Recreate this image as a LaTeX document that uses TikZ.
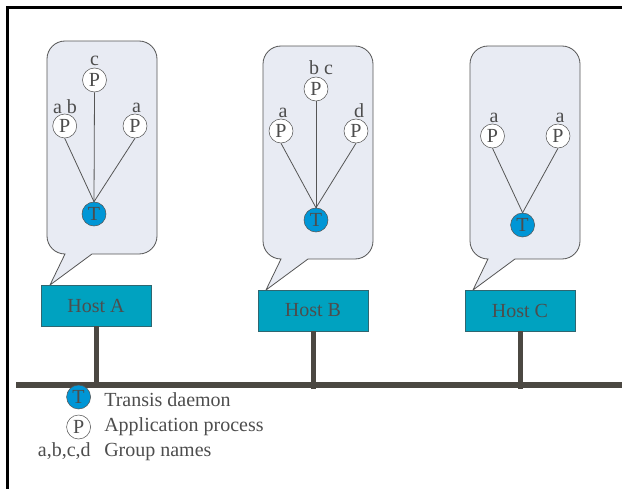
\documentclass[tikz,border=0pt]{standalone}
\usepackage{fontspec}
\setmainfont{Liberation Serif}
\definecolor{inkgray}{HTML}{4D4D4D}
\definecolor{edgegray}{HTML}{555555}
\definecolor{bubblefill}{HTML}{E8EBF3}
\definecolor{hostteal}{HTML}{00A2C0}
\definecolor{hostedge}{HTML}{2F6670}
\definecolor{daemonblue}{HTML}{0096D6}
\definecolor{busgray}{HTML}{4B4842}

% speech bubble over a host, shifted to its top left corner
\newcommand{\bubble}[1]{%
  \draw[bubble,shift={#1}] (18,213) -- (3,244) -- (45,213) -- (92,213)
    arc[start angle=90,end angle=0,radius=18] -- (110,18)
    arc[start angle=0,end angle=-90,radius=18] -- (18,0)
    arc[start angle=-90,end angle=-180,radius=18] -- (0,195)
    arc[start angle=180,end angle=90,radius=18] -- cycle;}

\begin{document}
\begin{tikzpicture}[x=0.75pt,y=-0.75pt,
        every node/.style={font=\fontsize{15}{18}\selectfont,text=inkgray},
        proc/.style={circle,draw=edgegray,fill=white,inner sep=0pt,minimum size=18pt},
        daemon/.style={circle,draw=edgegray,fill=daemonblue,inner sep=0pt,minimum size=18pt},
        group/.style={anchor=base,inner sep=0pt},
        host/.style={draw=hostedge,fill=hostteal,inner sep=0pt,minimum width=82.5pt,minimum height=30.75pt},
        link/.style={draw=edgegray,line width=0.6pt},
        bubble/.style={draw=edgegray,fill=bubblefill,line width=0.6pt},
        stem/.style={draw=busgray,line width=3.75pt},
        bus/.style={draw=busgray,line width=4.5pt},
        frame/.style={draw=black,line width=2.6pt},
    ]
    \useasboundingbox (0,0) rectangle (622,489);
    \draw[frame] (7.5,489) -- (7.5,7.5) -- (622,7.5);

    \bubble{(47,41)}
    \bubble{(263,46)}
    \bubble{(470,46)}

    % host A
    \node[proc] (pA1) at (94.5,80) {P};
    \node[proc] (pA2) at (64.7,126) {P};
    \node[proc] (pA3) at (135,126) {P};
    \node[group] (gA1) at (94.5,65) {c};
    \node[group] (gA2) at (65,113) {a b};
    \node[group] (gA3) at (136.6,112) {a};
    \node[daemon] (tA) at (94,214) {T};
    \foreach \p in {pA1,pA2,pA3} \draw[link] (\p.south) -- (tA.north);

    % host B
    \node[proc] (pB1) at (316,89) {P};
    \node[proc] (pB2) at (281,131) {P};
    \node[proc] (pB3) at (356,131) {P};
    \node[group] (gB1) at (321,74) {b c};
    \node[group] (gB2) at (283,117) {a};
    \node[group] (gB3) at (359,117) {d};
    \node[daemon] (tB) at (316,220) {T};
    \foreach \p in {pB1,pB2,pB3} \draw[link] (\p.south) -- (tB.north);

    % host C
    \node[proc] (pC1) at (492.5,136) {P};
    \node[proc] (pC2) at (558,136) {P};
    \node[group] (gC1) at (494,122) {a};
    \node[group] (gC2) at (560,122) {a};
    \node[daemon] (tC) at (522.6,225) {T};
    \foreach \p in {pC1,pC2} \draw[link] (\p.south) -- (tC.north);

    % hosts on the network
    \node[host] (hostA) at (96,305.5) {Host A};
    \node[host] (hostB) at (313,310.5) {Host B};
    \node[host] (hostC) at (520,310.5) {Host C};
    \coordinate (jA) at (96,385);
    \coordinate (jB) at (313,389);
    \coordinate (jC) at (520,389);
    \draw[stem] (hostA.south) -- (jA);
    \draw[stem] (hostB.south) -- (jB);
    \draw[stem] (hostC.south) -- (jC);
    \coordinate (busL) at (16,385);
    \coordinate (busR) at (622,385);
    \draw[bus] (busL) -- (busR);

    % legend
    \node[daemon] (lt) at (78.6,397) {T};
    \node[proc] (lp) at (78.6,427) {P};
    \node[group,anchor=base west] (ltt) at (104,406) {Transis daemon};
    \node[group,anchor=base west] (lpt) at (104,431) {Application process};
    \node[group,anchor=base east] (lgk) at (91,456) {a,b,c,d};
    \node[group,anchor=base west] (lgt) at (104,456) {Group names};
\end{tikzpicture}
\end{document}
